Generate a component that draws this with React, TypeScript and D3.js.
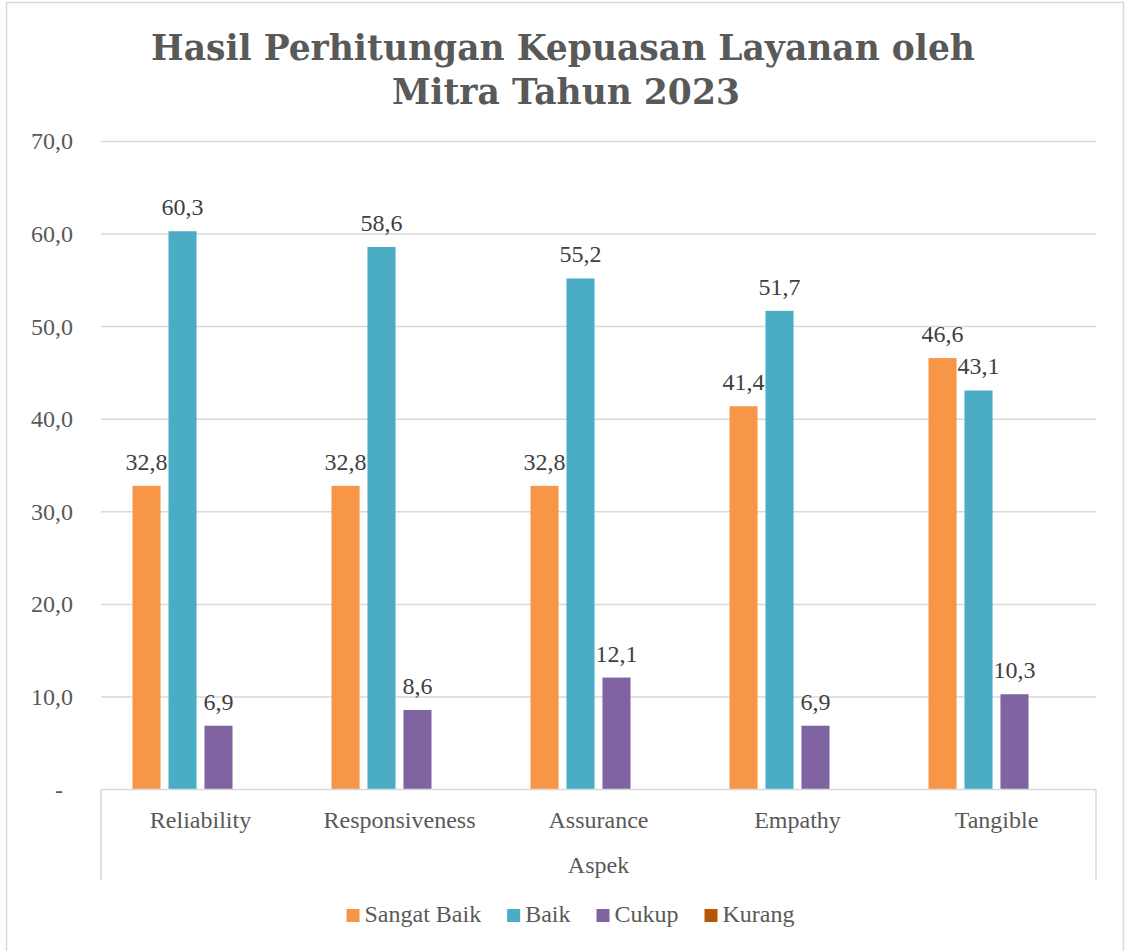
import { useEffect, useRef } from "react";
import * as d3 from "d3";

const categories = ["Reliability", "Responsiveness", "Assurance", "Empathy", "Tangible"];
const seriesNames = ["Sangat Baik", "Baik", "Cukup", "Kurang"];
const sangatBaik = [32.8, 32.8, 32.8, 41.4, 46.6];
const baik = [60.3, 58.6, 55.2, 51.7, 43.1];
const cukup = [6.9, 8.6, 12.1, 6.9, 10.3];
const kurang = [0, 0, 0, 0, 0];
const yTicks = [0, 10, 20, 30, 40, 50, 60, 70];
const colors = ["#F79646", "#4BACC6", "#8064A2", "#B65708"];

const FONT = "'Liberation Serif', 'Times New Roman', serif";
const TITLE_FONT = "'DejaVu Serif', serif";

export default function App() {
  const ref = useRef<SVGSVGElement>(null);

  useEffect(() => {
    if (!ref.current) return;
    const svg = d3.select(ref.current);
    svg.selectAll("*").remove();

    const W = 1125;
    const plot = { left: 101, right: 1096, top: 141.4, bottom: 789.6 };

    // outer border
    svg
      .append("rect")
      .attr("x", 6.5)
      .attr("y", 2.5)
      .attr("width", 1117)
      .attr("height", 980)
      .attr("fill", "#fff")
      .attr("stroke", "#d9d9d9")
      .attr("stroke-width", 1.5);

    // title
    const title = svg
      .append("text")
      .attr("text-anchor", "middle")
      .attr("font-family", TITLE_FONT)
      .attr("font-weight", "bold")
      .attr("font-size", 34.5)
      .attr("fill", "#595959");
    title.append("tspan").attr("x", 563).attr("y", 60).text("Hasil Perhitungan Kepuasan Layanan oleh");
    title.append("tspan").attr("x", 566).attr("y", 104).text("Mitra Tahun 2023");

    const y = d3.scaleLinear().domain([0, 70]).range([plot.bottom, plot.top]);
    const x0 = d3.scaleBand<string>().domain(categories).range([plot.left, plot.right]);
    const pad = 31.5;
    const x1 = d3
      .scaleBand<string>()
      .domain(seriesNames)
      .range([pad, x0.bandwidth() - pad])
      .paddingInner(0.22)
      .paddingOuter(0);

    // gridlines
    svg
      .append("g")
      .selectAll("line")
      .data(yTicks.filter((t) => t > 0))
      .enter()
      .append("line")
      .attr("x1", plot.left)
      .attr("x2", plot.right)
      .attr("y1", (d) => y(d))
      .attr("y2", (d) => y(d))
      .attr("stroke", "#d9d9d9")
      .attr("stroke-width", 1.5);

    // y tick labels
    svg
      .append("g")
      .selectAll("text")
      .data(yTicks)
      .enter()
      .append("text")
      .attr("x", (d) => (d === 0 ? 63 : 73))
      .attr("y", (d) => y(d) + 8)
      .attr("text-anchor", "end")
      .attr("font-family", FONT)
      .attr("font-size", 24)
      .attr("fill", "#595959")
      .text((d) => (d === 0 ? "-" : d3.format(".1f")(d).replace(".", ",")));

    // bars
    const series = [sangatBaik, baik, cukup, kurang];
    const rows = categories.map((c, i) => ({
      cat: c,
      vals: seriesNames.map((s, j) => ({ s, j, v: series[j][i] })),
    }));

    const groups = svg
      .append("g")
      .selectAll("g")
      .data(rows)
      .enter()
      .append("g")
      .attr("transform", (d) => `translate(${x0(d.cat)},0)`);

    groups
      .selectAll("rect")
      .data((d) => d.vals.filter((v) => v.v > 0))
      .enter()
      .append("rect")
      .attr("x", (d) => x1(d.s)!)
      .attr("y", (d) => y(d.v))
      .attr("width", x1.bandwidth())
      .attr("height", (d) => plot.bottom - y(d.v))
      .attr("fill", (d) => colors[d.j]);

    groups
      .selectAll("text")
      .data((d) => d.vals.filter((v) => v.v > 0))
      .enter()
      .append("text")
      .attr("x", (d) => x1(d.s)! + x1.bandwidth() / 2)
      .attr("y", (d) => y(d.v) - 16)
      .attr("text-anchor", "middle")
      .attr("font-family", FONT)
      .attr("font-size", 24)
      .attr("fill", "#404040")
      .text((d) => d3.format(".1f")(d.v).replace(".", ","));

    // x axis line + group separators
    svg
      .append("line")
      .attr("x1", plot.left)
      .attr("x2", plot.right)
      .attr("y1", plot.bottom)
      .attr("y2", plot.bottom)
      .attr("stroke", "#d9d9d9")
      .attr("stroke-width", 1.5);
    [plot.left, plot.right].forEach((xx) => {
      svg
        .append("line")
        .attr("x1", xx)
        .attr("x2", xx)
        .attr("y1", plot.bottom)
        .attr("y2", 880)
        .attr("stroke", "#d9d9d9")
        .attr("stroke-width", 1.5);
    });

    // category labels
    svg
      .append("g")
      .selectAll("text")
      .data(categories)
      .enter()
      .append("text")
      .attr("x", (d) => x0(d)! + x0.bandwidth() / 2)
      .attr("y", 828)
      .attr("text-anchor", "middle")
      .attr("font-family", FONT)
      .attr("font-size", 24)
      .attr("fill", "#595959")
      .text((d) => d);

    svg
      .append("text")
      .attr("x", (plot.left + plot.right) / 2)
      .attr("y", 873)
      .attr("text-anchor", "middle")
      .attr("font-family", FONT)
      .attr("font-size", 24)
      .attr("fill", "#595959")
      .text("Aspek");

    // legend
    const legend = svg.append("g");
    let cx = 0;
    seriesNames.forEach((s, i) => {
      const g = legend.append("g").attr("transform", `translate(${cx},0)`);
      g.append("rect").attr("x", 0).attr("y", -13).attr("width", 13).attr("height", 13).attr("fill", colors[i]);
      const t = g
        .append("text")
        .attr("x", 18)
        .attr("y", 0)
        .attr("font-family", FONT)
        .attr("font-size", 24)
        .attr("fill", "#595959")
        .text(s);
      const w = (t.node() as SVGTextElement).getComputedTextLength();
      cx += 18 + w + 26;
    });
    const total = cx - 26;
    legend.attr("transform", `translate(${W / 2 + 8 - total / 2},922)`);
  }, []);

  return (
    <svg
      ref={ref}
      width={1125}
      height={951}
      style={{ position: "absolute", left: 0, top: 0 }}
    />
  );
}
